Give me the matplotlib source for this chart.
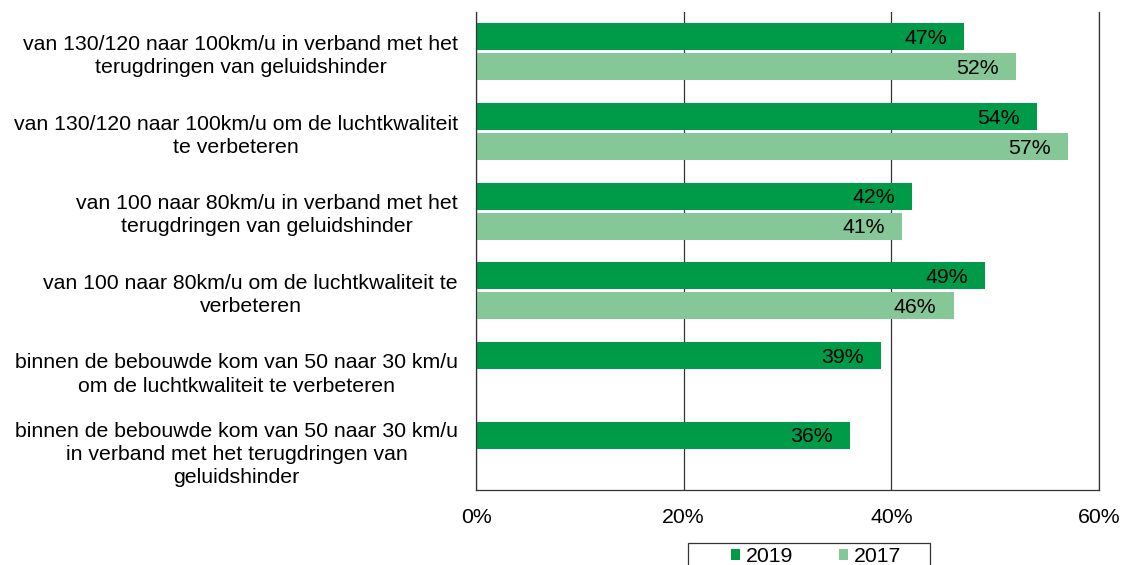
import numpy as np
import matplotlib
matplotlib.use("Agg")
import matplotlib.pyplot as plt
from matplotlib.patches import Rectangle

plt.rcParams['font.family'] = ['Liberation Sans', 'DejaVu Sans']

categories = [
    "van 130/120 naar 100km/u in verband met het\nterugdringen van geluidshinder",
    "van 130/120 naar 100km/u om de luchtkwaliteit\nte verbeteren",
    "van 100 naar 80km/u in verband met het\nterugdringen van geluidshinder",
    "van 100 naar 80km/u om de luchtkwaliteit te\nverbeteren",
    "binnen de bebouwde kom van 50 naar 30 km/u\nom de luchtkwaliteit te verbeteren",
    "binnen de bebouwde kom van 50 naar 30 km/u\nin verband met het terugdringen van\ngeluidshinder",
]
values_2019 = [47, 54, 42, 49, 39, 36]
values_2017 = [52, 57, 41, 46, None, None]
series_names = ["2019", "2017"]
colors = ["#009B48", "#86C797"]
xticks = [0, 20, 40, 60]

W, H = 1122, 565
fig = plt.figure(figsize=(W / 100, H / 100), dpi=100)
ax = fig.add_axes([476 / W, 1 - 490 / H, (1099 - 476) / W, (490 - 12) / H])

y = np.arange(len(categories))
h = 0.3375
off = 0.1875
fs = 15.3

for vals, name, col, d in zip([values_2019, values_2017], series_names, colors, [-off, off]):
    for i, v in enumerate(vals):
        if v is None:
            continue
        ax.barh(y[i] + d, v, height=h, color=col, edgecolor='none',
                label=name if i == 0 else None)
        ax.text(v - 1.65, y[i] + d + 0.02, f"{v}%", ha='right', va='center',
                fontsize=fs, color='black')

ax.set_ylim(len(categories) - 0.5, -0.5)
ax.set_xlim(0, 60)
ax.set_xticks(xticks)
ax.set_xticklabels([f"{t}%" for t in xticks], fontsize=fs)
ax.tick_params(axis='x', length=0, pad=13)
ax.set_yticks(y)
ax.set_yticklabels(categories, fontsize=fs, ha='right', multialignment='center',
                   linespacing=1.28)
ax.tick_params(axis='y', length=0, pad=13)

ax.xaxis.grid(True, color='#333333', linewidth=0.9)
ax.set_axisbelow(True)
ax.spines['top'].set_visible(False)
for s in ['left', 'bottom', 'right']:
    ax.spines[s].set_color('#333333')
    ax.spines[s].set_linewidth(0.9)

# legend box along the bottom edge
fig.patches.append(Rectangle((688 / W, -0.02), (930 - 688) / W, 0.02 + 1 - 543 / H,
                             transform=fig.transFigure, fill=False,
                             edgecolor='#333333', linewidth=0.9))
leg = fig.legend(loc='upper center', bbox_to_anchor=(816 / W, 1 - 547 / H),
                 ncol=2, fontsize=fs, frameon=False,
                 handlelength=0.45, handleheight=0.45,
                 handletextpad=0.25, columnspacing=2.15, borderpad=0,
                 borderaxespad=0)

fig.savefig("out.png", dpi=100)
